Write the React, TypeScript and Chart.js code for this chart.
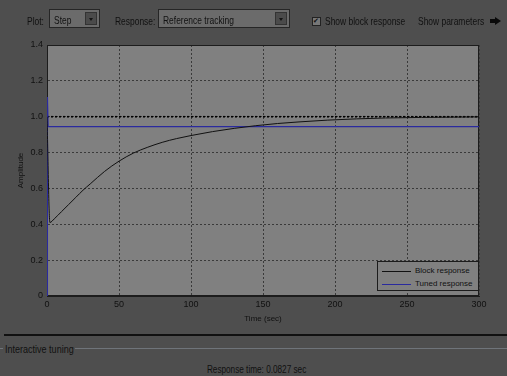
import React, { useEffect, useRef } from "react";
import { Chart, registerables } from "chart.js";

Chart.register(...registerables);

// ---- data ----
const blockTime = [0, 2, 5, 10, 15, 20, 25, 30, 40, 50, 60, 70, 80, 90, 100, 115, 130, 145, 160, 175, 195, 215, 235, 260, 300];
const blockAmp = [1.0, 0.41, 0.43, 0.47, 0.51, 0.55, 0.59, 0.625, 0.695, 0.752, 0.797, 0.83, 0.857, 0.878, 0.895, 0.917, 0.935, 0.95, 0.962, 0.971, 0.981, 0.988, 0.993, 0.996, 0.999];
const tunedTime = [0, 0.3, 0.8, 300];
const tunedAmp = [0, 1.11, 0.945, 0.945];
const referenceTime = [0, 300];
const referenceAmp = [1, 1];
const seriesLabels = ["Block response", "Tuned response"];
const seriesColors = ["#111111", "#2a2a9e"];
const xLimits = [0, 300];
const xStep = 50;
const yLimits = [0, 1.4];
const yStep = 0.2;
const xTitle = "Time (sec)";
const yTitle = "Amplitude";

const toPoints = (xs: number[], ys: number[]) => xs.map((x, i) => ({ x, y: ys[i] }));

const PLOT_BG = "#808080";
const BG = "#4e4e4e";
const UI_FONT = "'Liberation Sans', sans-serif";
const NARROW = 0.82;

const framePlugin = {
  id: "frame",
  beforeDraw(chart: any) {
    const { ctx, chartArea } = chart;
    const { left, top, width, height } = chartArea;
    ctx.save();
    ctx.fillStyle = PLOT_BG;
    ctx.fillRect(left, top, width, height);
    ctx.restore();
  },
  beforeDatasetsDraw(chart: any) {
    const { ctx, chartArea } = chart;
    const { left, top, width, height } = chartArea;
    ctx.save();
    ctx.strokeStyle = "#1c1c1c";
    ctx.lineWidth = 1;
    ctx.strokeRect(Math.round(left) + 0.5, Math.round(top) + 0.5, Math.round(width) - 1, Math.round(height) - 1);
    ctx.restore();
  },
};

function ChartCanvas() {
  const ref = useRef<HTMLCanvasElement | null>(null);
  useEffect(() => {
    if (!ref.current) return;
    const chart = new Chart(ref.current, {
      type: "line",
      data: {
        datasets: [
          {
            label: seriesLabels[0],
            data: toPoints(blockTime, blockAmp),
            borderColor: seriesColors[0],
            borderWidth: 1,
            pointRadius: 0,
            cubicInterpolationMode: "monotone",
            fill: false,
          },
          {
            label: seriesLabels[1],
            data: toPoints(tunedTime, tunedAmp),
            borderColor: seriesColors[1],
            borderWidth: 1.2,
            pointRadius: 0,
            tension: 0,
            fill: false,
          },
          {
            label: "Reference",
            data: toPoints(referenceTime, referenceAmp),
            borderColor: "#000000",
            borderWidth: 1.6,
            borderDash: [2, 2],
            pointRadius: 0,
            fill: false,
          },
        ],
      },
      options: {
        animation: false,
        responsive: false,
        maintainAspectRatio: false,
        layout: { padding: { top: 45, right: 28, left: 0, bottom: 0 } },
        plugins: { legend: { display: false }, tooltip: { enabled: false } },
        scales: {
          x: {
            type: "linear",
            min: xLimits[0],
            max: xLimits[1],
            afterFit: (s: any) => { s.height = 28; },
            ticks: { stepSize: xStep, color: "#111", padding: 3, font: { family: "'Liberation Sans'", size: 9 }, maxRotation: 0 },
            grid: { color: "#3a3a3a", lineWidth: 1, drawTicks: false },
            border: { display: true, color: "#1c1c1c", dash: [2, 2] } as any,
            title: { display: true, text: xTitle, color: "#111", font: { family: "'Liberation Sans'", size: 8 }, padding: { top: 0, bottom: 0 } },
          },
          y: {
            type: "linear",
            min: yLimits[0],
            max: yLimits[1],
            afterFit: (s: any) => { s.width = 47; },
            ticks: { stepSize: yStep, color: "#111", padding: 4, font: { family: "'Liberation Sans'", size: 9 } },
            grid: { color: "#3a3a3a", lineWidth: 1, drawTicks: false },
            border: { display: true, color: "#1c1c1c", dash: [2, 2] } as any,
            title: { display: true, text: yTitle, color: "#111", font: { family: "'Liberation Sans'", size: 8 }, padding: { top: 16, bottom: 0 } },
          },
        },
      },
      plugins: [framePlugin],
    } as any);
    return () => chart.destroy();
  }, []);
  return <canvas ref={ref} width={507} height={324} style={{ position: "absolute", left: 0, top: 0, width: 507, height: 324 }} />;
}

const Label = ({ left, top, text, size = 10.3 }: { left: number; top: number; text: string; size?: number }) => (
  <span
    style={{
      position: "absolute",
      left,
      top,
      fontSize: size,
      lineHeight: "12px",
      whiteSpace: "nowrap",
      display: "inline-block",
      transform: `scaleX(${NARROW})`,
      transformOrigin: "left center",
    }}
  >
    {text}
  </span>
);

function Combo({ left, width, text }: { left: number; width: number; text: string }) {
  return (
    <div style={{ position: "absolute", left, top: 9, width, height: 19, background: "#6b6b6b", border: "1px solid #262626", boxSizing: "border-box" }}>
      <Label left={4} top={5} text={text} />
      <div style={{ position: "absolute", right: 2, top: 2, width: 12, height: 13, background: "#4b4b4b", border: "1px solid #333", boxSizing: "border-box" }}>
        <div style={{ position: "absolute", left: 3, top: 5, width: 0, height: 0, borderLeft: "2.5px solid transparent", borderRight: "2.5px solid transparent", borderTop: "3px solid #151515" }} />
      </div>
    </div>
  );
}

export default function App() {
  return (
    <div style={{ position: "fixed", left: 0, top: 0, width: 507, height: 376, background: BG, overflow: "hidden", fontFamily: UI_FONT, color: "#111" }}>
      <ChartCanvas />
      {/* toolbar */}
      <Label left={27} top={15.5} text="Plot:" />
      <Combo left={49} width={51} text="Step" />
      <Label left={115} top={15.5} text="Response:" />
      <Combo left={158} width={132} text="Reference tracking" />
      <div style={{ position: "absolute", left: 312, top: 17, width: 9, height: 9, background: "#777", border: "1px solid #222", boxSizing: "border-box" }}>
        <span style={{ position: "absolute", left: 0, top: -1, fontSize: 7, lineHeight: "8px", fontFamily: "'DejaVu Sans'", color: "#111" }}>✔</span>
      </div>
      <Label left={325} top={15.5} text="Show block response" />
      <Label left={418} top={15.5} text="Show parameters" />
      {/* arrow icon */}
      <div style={{ position: "absolute", left: 490, top: 19, width: 5, height: 4, background: "#0a0a0a" }} />
      <div style={{ position: "absolute", left: 495, top: 16.5, width: 0, height: 0, borderLeft: "6px solid #0a0a0a", borderTop: "4.5px solid transparent", borderBottom: "4.5px solid transparent" }} />
      {/* legend */}
      <div style={{ position: "absolute", left: 377, top: 261, width: 102, height: 30, background: PLOT_BG, border: "1px solid #1c1c1c", boxSizing: "border-box" }}>
        {seriesLabels.map((lab, i) => (
          <div key={lab} style={{ position: "absolute", left: 0, top: 3 + i * 13, height: 12, width: 100 }}>
            <div style={{ position: "absolute", left: 4, top: 6, width: 29, height: 0, borderTop: `1px solid ${seriesColors[i]}` }} />
            <span style={{ position: "absolute", left: 37, top: 0, fontSize: 8, lineHeight: "12px", fontFamily: "'Liberation Sans'", whiteSpace: "nowrap" }}>{lab}</span>
          </div>
        ))}
      </div>
      {/* bottom panel */}
      <div style={{ position: "absolute", left: 4, top: 334, width: 503, height: 2, background: "#111" }} />
      <div style={{ position: "absolute", left: 75, top: 348, width: 432, height: 1, background: "#6f747a" }} />
      <div style={{ position: "absolute", left: 0, top: 348, width: 3, height: 1, background: "#6f747a" }} />
      <Label left={5} top={343} text="Interactive tuning" size={11} />
      <div style={{ position: "absolute", left: 0, width: 514, top: 364, height: 12, textAlign: "center", fontSize: 10, lineHeight: "12px" }}>
        <span style={{ display: "inline-block", verticalAlign: "top", fontSize: 10, lineHeight: "12px", whiteSpace: "nowrap", transform: `scaleX(${NARROW})`, transformOrigin: "center center" }}>
          Response time: 0.0827 sec
        </span>
      </div>
    </div>
  );
}
